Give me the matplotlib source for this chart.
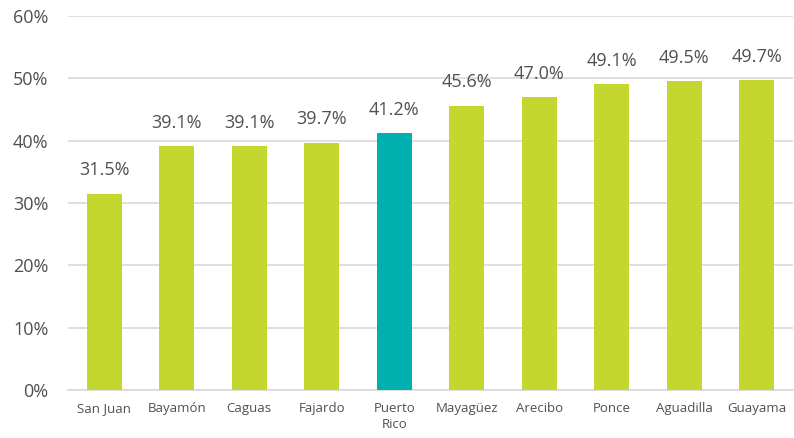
import matplotlib
matplotlib.use("Agg")
import matplotlib.pyplot as plt
from matplotlib.ticker import PercentFormatter

cities = ["San Juan", "Bayamón", "Caguas", "Fajardo", "Puerto\nRico",
          "Mayagüez", "Arecibo", "Ponce", "Aguadilla", "Guayama"]
values = [31.5, 39.1, 39.1, 39.7, 41.2, 45.6, 47.0, 49.1, 49.5, 49.7]
highlight = "Puerto\nRico"

green = "#C3D72E"
teal = "#00B0AE"
grey = "#505050"

plt.rcParams["font.family"] = ["Open Sans", "DejaVu Sans"]

fig = plt.figure(figsize=(7.94, 4.38), dpi=100)
ax = fig.add_axes([0.0856, 0.1096, 0.9130, 0.8539])

colors = [teal if c == highlight else green for c in cities]
x = range(len(cities))
bars = ax.bar(x, values, width=0.48, color=colors, zorder=3)

for b, v in zip(bars, values):
    ax.text(b.get_x() + b.get_width() / 2, v + 2.3, f"{v:.1f}%",
            ha="center", va="bottom", fontsize=13, color=grey)

ax.set_ylim(0, 60)
ax.set_xlim(-0.5, len(cities) - 0.5)
ax.set_yticks(range(0, 61, 10))
ax.yaxis.set_major_formatter(PercentFormatter(decimals=0))
ax.set_xticks(list(x))
ax.set_xticklabels(cities, fontsize=9.5, color=grey, linespacing=1.3)
ax.tick_params(axis="y", labelsize=13, colors=grey, length=0, pad=14)
ax.tick_params(axis="x", length=0, pad=9)

ax.grid(axis="y", color="#D9D9D9", linewidth=1.2, zorder=0)
for s in ["top", "right", "left"]:
    ax.spines[s].set_visible(False)
ax.spines["bottom"].set_color("#D9D9D9")
ax.spines["bottom"].set_linewidth(1.2)

fig.savefig("out.png", dpi=100)
